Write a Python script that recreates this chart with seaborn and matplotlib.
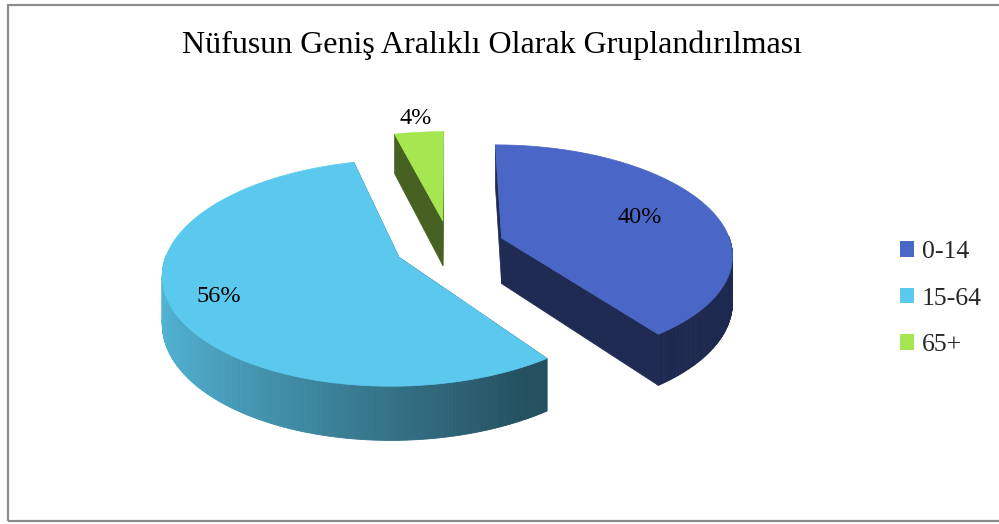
# Exploded 3D-style pie: population by broad age group
import numpy as np
import matplotlib
matplotlib.use("Agg")
import matplotlib.pyplot as plt
from matplotlib.patches import Polygon, Rectangle, Patch
import seaborn as sns

# Data
categories = ["0-14", "15-64", "65+"]
shares = [40, 56, 4]
colors = ["#4A66C6", "#5BC9EE", "#A6E650"]
title = "Nüfusun Geniş Aralıklı Olarak Gruplandırılması"

sns.set_theme(style="white")
plt.rcParams["font.family"] = ["Liberation Serif", "DejaVu Serif"]

# Projection settings (pixels)
cx, cy = 449.6, 246
rx, ry = 230, 108
persp = 0.137
depth = 46
explode = 0.24
label_r = [0.66, 0.80, 1.18]


def proj(x, y, z=0.0):
    f = 1.0 / (1.0 + persp * y)
    return cx + rx * x * f, cy - ry * y * f + depth * z * f


def shade(rgb, factor):
    return tuple(np.clip(np.array(rgb) * factor, 0, 1))


fig = plt.figure(figsize=(9.99, 5.24), dpi=100)
ax = fig.add_axes([0, 0, 1, 1])
ax.set_xlim(0, 999)
ax.set_ylim(524, 0)
ax.axis("off")

total = sum(shares)
slices = []
end = 90.0
for cat, val, col, lr in zip(categories, shares, colors, label_r):
    span = val / total * 360.0
    t1 = end
    t0 = end - span
    end = t0
    slices.append((cat, val, col, lr, t0, t1))

# back to front
slices.sort(key=lambda s: -np.sin(np.radians((s[4] + s[5]) / 2)))

for cat, val, col, lr, t0, t1 in slices:
    rgb = matplotlib.colors.to_rgb(col)
    mid = np.radians((t0 + t1) / 2)
    ox, oy = explode * np.cos(mid), explode * np.sin(mid)
    thetas = np.radians(np.linspace(t0, t1, max(int(abs(t1 - t0)) * 2, 4)))
    dark = shade(rgb, 0.42)

    # radial faces
    for t in (t0, t1):
        a = np.radians(t)
        px, py = ox + np.cos(a), oy + np.sin(a)
        pts = [proj(ox, oy), proj(px, py), proj(px, py, 1), proj(ox, oy, 1)]
        ax.add_patch(Polygon(pts, closed=True, facecolor=dark, edgecolor=dark, lw=0.5))

    # outer wall, front part only, shaded by angle
    for a, b in zip(thetas[:-1], thetas[1:]):
        m = (a + b) / 2
        if np.sin(m) > 0.02:
            continue
        t = (1 + np.cos(m)) / 2
        fc = shade(rgb, 0.9 - 0.5 * min(1.0, t / 0.75))
        pts = [proj(ox + np.cos(a), oy + np.sin(a)), proj(ox + np.cos(b), oy + np.sin(b)),
               proj(ox + np.cos(b), oy + np.sin(b), 1), proj(ox + np.cos(a), oy + np.sin(a), 1)]
        ax.add_patch(Polygon(pts, closed=True, facecolor=fc, edgecolor=fc, lw=0.6))

    # top face
    pts = [proj(ox, oy)] + [proj(ox + np.cos(a), oy + np.sin(a)) for a in thetas]
    ax.add_patch(Polygon(pts, closed=True, facecolor=rgb, edgecolor=rgb, lw=0.5))

    # percentage label
    lx, ly = proj(ox + lr * np.cos(mid), oy + lr * np.sin(mid))
    ax.text(lx, ly, f"{round(val / total * 100)}%", ha="center", va="center",
            fontsize=17.5, color="black")

ax.text(492, 45, title, ha="center", va="center", fontsize=23, color="black")

handles = [Patch(facecolor=c, edgecolor="none") for c in colors]
fig.legend(handles, categories, loc="center left", bbox_to_anchor=(0.901, 0.43),
           frameon=False, fontsize=18.5, handlelength=0.55, handleheight=0.55,
           handletextpad=0.3, labelspacing=0.95, borderpad=0, borderaxespad=0)

# outer chart frame
fig.patches.append(Rectangle((8 / 999, 3 / 524), 1.0, 516 / 524, transform=fig.transFigure,
                             fill=False, edgecolor="#8c8c8c", lw=1.6))

fig.savefig("out.png", dpi=100)
